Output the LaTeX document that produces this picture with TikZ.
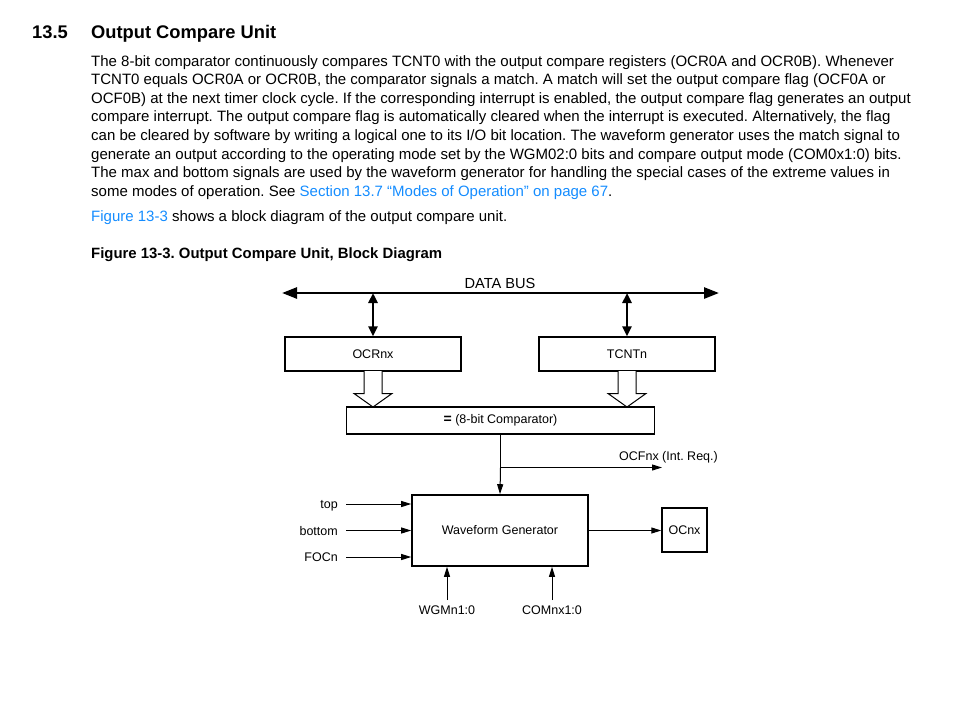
\documentclass[tikz,border=0pt]{standalone}
\usepackage{fontspec}
\setmainfont{Liberation Sans}
\usetikzlibrary{arrows.meta,calc}
\definecolor{linkblue}{RGB}{20,140,255}
\tikzset{
  bodyline/.style={anchor=base west,inner sep=0pt,font=\fontsize{15}{18}\selectfont},
  headtxt/.style={anchor=base west,inner sep=0pt,font=\fontsize{18.3}{20}\selectfont\bfseries},
  captxt/.style={anchor=base west,inner sep=0pt,font=\fontsize{14.9}{18}\selectfont\bfseries},
  box/.style={draw,line width=1.4pt,inner sep=0pt,font=\fontsize{12.5}{14}\selectfont},
  lbl/.style={inner sep=0pt,font=\fontsize{12.5}{14}\selectfont},
  sig/.style={line width=1pt,-{Triangle[length=10pt,width=6pt]}},
  busarrow/.style={line width=2.6pt,{Triangle[length=15pt,width=11pt]}-{Triangle[length=15pt,width=11pt]}},
  tapar/.style={line width=2.8pt,{Triangle[length=10pt,width=9pt]}-{Triangle[length=10pt,width=9pt]}},
  hollow/.style={draw,fill=white,line width=1pt,line join=miter}
}
\frenchspacing
\begin{document}
\begin{tikzpicture}[x=1pt,y=-1pt]
\useasboundingbox (0,0) rectangle (960,702);
% heading
\node[headtxt] (hnum) at (32,38) {13.5};
\node[headtxt] (htitle) at (91,38) {Output Compare Unit};
% body
\node[bodyline] (l1) at (91,66) {The 8-bit comparator continuously compares TCNT0 with the output compare registers (OCR0A and OCR0B). Whenever};
\node[bodyline] (l2) at (91,84.6) {TCNT0 equals OCR0A or OCR0B, the comparator signals a match. A match will set the output compare flag (OCF0A or};
\node[bodyline] (l3) at (91,103.2) {OCF0B) at the next timer clock cycle. If the corresponding interrupt is enabled, the output compare flag generates an output};
\node[bodyline] (l4) at (91,121.8) {compare interrupt. The output compare flag is automatically cleared when the interrupt is executed. Alternatively, the flag};
\node[bodyline] (l5) at (91,140.4) {can be cleared by software by writing a logical one to its I/O bit location. The waveform generator uses the match signal to};
\node[bodyline] (l6) at (91,159) {generate an output according to the operating mode set by the WGM02:0 bits and compare output mode (COM0x1:0) bits.};
\node[bodyline] (l7) at (91,177.6) {The max and bottom signals are used by the waveform generator for handling the special cases of the extreme values in};
\node[bodyline] (l8) at (91,196.2) {some modes of operation. See \textcolor{linkblue}{Section 13.7 “Modes of Operation” on page 67}.};
\node[bodyline] (l9) at (91,221) {\textcolor{linkblue}{Figure 13-3} shows a block diagram of the output compare unit.};
% caption
\node[captxt] (cap) at (91,258) {Figure 13-3. Output Compare Unit, Block Diagram};
% data bus
\coordinate (busL) at (282,293);
\coordinate (busR) at (719,293);
\draw[busarrow] (busL) -- (busR);
\node[inner sep=0pt,font=\fontsize{14.6}{16}\selectfont,anchor=base] (buslbl) at (500,288) {DATA BUS};
% registers
\node[box,minimum width=176pt,minimum height=34pt] (ocr) at (373,354) {OCRnx};
\node[box,minimum width=176pt,minimum height=34pt] (tcnt) at (627,354) {TCNTn};
\coordinate (tapL) at (373,293);
\coordinate (tapR) at (627,293);
\draw[tapar] (tapL) -- (ocr.north);
\draw[tapar] (tapR) -- (tcnt.north);
% comparator
\node[box,line width=1.2pt,minimum width=308pt,minimum height=27pt] (cmp) at (500.5,420.5) {{\fontsize{14}{14}\selectfont\bfseries =}\ (8-bit Comparator)};
% hollow arrows
\draw[hollow] (364,371) -- (364,393.5) -- (354,393.5) -- (373,407) -- (392,393.5) -- (382,393.5) -- (382,371);
\draw[hollow] (618,371) -- (618,393.5) -- (608,393.5) -- (627,407) -- (646,393.5) -- (636,393.5) -- (636,371);
% waveform generator
\node[box,line width=1.6pt,minimum width=176pt,minimum height=71pt] (wg) at (500,530.5) {Waveform Generator};
\node[box,minimum width=45pt,minimum height=44pt] (oc) at (684.5,530) {OCnx};
\coordinate (junc) at (cmp.south |- 0,467.5);
\coordinate (ocfend) at (662,467.5);
\draw[line width=1pt] (cmp.south) -- (junc);
\draw[sig] (junc) -- (wg.north);
\draw[sig] (junc) -- (ocfend);
\node[lbl,anchor=base east] (ocflbl) at (718,460) {OCFnx (Int. Req.)};
% inputs
\node[lbl,anchor=base east] (top) at (338,508.5) {top};
\node[lbl,anchor=base east] (bot) at (338,535) {bottom};
\node[lbl,anchor=base east] (foc) at (338,561) {FOCn};
\coordinate (topS) at (346,504);
\coordinate (botS) at (346,530.5);
\coordinate (focS) at (346,557);
\draw[sig] (topS) -- (wg.west |- topS);
\draw[sig] (botS) -- (wg.west |- botS);
\draw[sig] (focS) -- (wg.west |- focS);
% bottom inputs
\node[lbl,anchor=base] (wgm) at (447,614) {WGMn1:0};
\node[lbl,anchor=base] (com) at (552,614) {COMnx1:0};
\coordinate (wgmS) at (447,600);
\coordinate (comS) at (552,600);
\draw[sig] (wgmS) -- (wgmS |- wg.south);
\draw[sig] (comS) -- (comS |- wg.south);
% output
\draw[sig] (wg.east) -- (oc.west |- wg.east);
\end{tikzpicture}
\end{document}
